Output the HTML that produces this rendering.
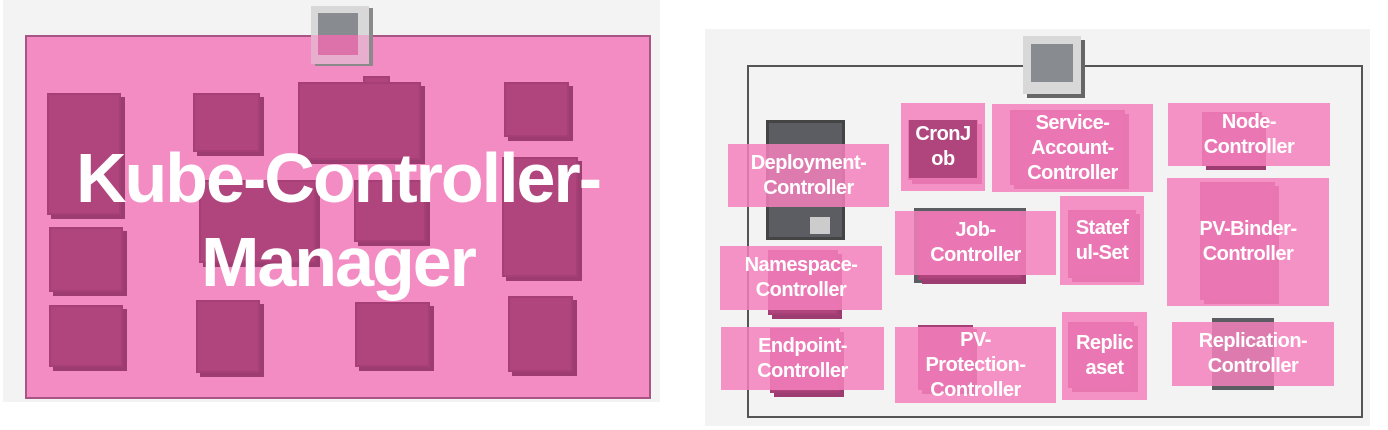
<!DOCTYPE html>
<html><head><meta charset="utf-8"><style>
body{margin:0;width:1388px;height:430px;background:#fff;position:relative;overflow:hidden;font-family:"Liberation Sans",sans-serif}
div{position:absolute;box-sizing:border-box}
.d{background:#b0457e;border:2px solid #a63f76;box-shadow:4px 4px 0 #9d3c70}
.p{background:rgba(244,128,188,0.85);color:#fff;font-weight:bold;font-size:20px;line-height:25px;display:flex;align-items:center;justify-content:center;text-align:center;letter-spacing:-0.5px;white-space:nowrap}
.in{background:#b0457e}
</style></head><body>
<!-- left panel -->
<div style="left:3px;top:0;width:657px;height:402px;background:#f3f3f3"></div>
<div style="left:25px;top:35px;width:626px;height:364px;background:#f48cc4;border:2px solid #a85583"></div>
<div style="left:311px;top:6px;width:58px;height:58px;background:#d8d8d8;box-shadow:4px 2px 0 #8a8a8a"></div>
<div style="left:318px;top:13px;width:40px;height:22px;background:#888c91"></div>
<div style="left:318px;top:35px;width:40px;height:20px;background:#c0508a"></div>
<div style="left:311px;top:35px;width:58px;height:29px;background:rgba(244,140,196,0.55)"></div>
<div class="d" style="left:47px;top:93px;width:74px;height:122px"></div>
<div class="d" style="left:193px;top:93px;width:67px;height:59px"></div>
<div class="d" style="left:363px;top:76px;width:27px;height:10px;box-shadow:none"></div>
<div class="d" style="left:298px;top:82px;width:123px;height:78px"></div>
<div class="d" style="left:504px;top:82px;width:65px;height:55px"></div>
<div class="d" style="left:199px;top:180px;width:117px;height:83px"></div>
<div class="d" style="left:354px;top:180px;width:72px;height:62px"></div>
<div class="d" style="left:502px;top:157px;width:76px;height:120px"></div>
<div class="d" style="left:49px;top:227px;width:74px;height:65px"></div>
<div class="d" style="left:49px;top:305px;width:74px;height:62px"></div>
<div class="d" style="left:196px;top:300px;width:64px;height:73px"></div>
<div class="d" style="left:355px;top:302px;width:75px;height:65px"></div>
<div class="d" style="left:508px;top:296px;width:65px;height:76px"></div>
<div style="left:25px;top:136px;width:626px;color:#fff;font-weight:bold;font-size:70px;line-height:84px;text-align:center;letter-spacing:-2px">Kube-Controller-<br>Manager</div>
<!-- right panel -->
<div style="left:705px;top:29px;width:665px;height:397px;background:#f3f3f3"></div>
<div style="left:747px;top:65px;width:616px;height:353px;border:2px solid #555"></div>
<div style="left:1023px;top:36px;width:58px;height:58px;background:#d8d8d8;box-shadow:4px 4px 0 #666"></div>
<div style="left:1031px;top:44px;width:42px;height:38px;background:#888c91"></div>
<div style="left:766px;top:120px;width:79px;height:120px;background:#5b5d62;border:3px solid #444"></div>
<div style="left:810px;top:217px;width:20px;height:17px;background:#ccc"></div>
<div class="d" style="left:908px;top:120px;width:70px;height:60px"></div>
<div class="d" style="left:1010px;top:110px;width:115px;height:75px"></div>
<div class="d" style="left:1202px;top:112px;width:60px;height:54px"></div>
<div style="left:914px;top:208px;width:112px;height:75px;background:#5b5d62"></div>
<div class="d" style="left:918px;top:212px;width:104px;height:68px"></div>
<div class="d" style="left:1068px;top:210px;width:68px;height:68px"></div>
<div class="d" style="left:1200px;top:182px;width:75px;height:118px"></div>
<div class="d" style="left:768px;top:250px;width:70px;height:65px"></div>
<div class="d" style="left:770px;top:328px;width:70px;height:65px"></div>
<div class="d" style="left:918px;top:325px;width:55px;height:65px"></div>
<div class="d" style="left:1068px;top:322px;width:66px;height:66px"></div>
<div style="left:1212px;top:318px;width:62px;height:72px;background:#5b5d62"></div>
<div class="p" style="left:728px;top:144px;width:161px;height:63px">Deployment-<br>Controller</div>
<div class="p" style="left:901px;top:103px;width:84px;height:88px"><div class="in" style="left:8px;top:17px;width:68px;height:58px"></div><span style="position:relative">CronJ<br>ob</span></div>
<div class="p" style="left:992px;top:104px;width:161px;height:88px">Service-<br>Account-<br>Controller</div>
<div class="p" style="left:1168px;top:103px;width:162px;height:63px">Node-<br>Controller</div>
<div class="p" style="left:895px;top:211px;width:161px;height:64px">Job-<br>Controller</div>
<div class="p" style="left:1060px;top:196px;width:84px;height:89px">Statef<br>ul-Set</div>
<div class="p" style="left:1167px;top:178px;width:162px;height:128px">PV-Binder-<br>Controller</div>
<div class="p" style="left:720px;top:246px;width:162px;height:64px">Namespace-<br>Controller</div>
<div class="p" style="left:721px;top:327px;width:163px;height:63px">Endpoint-<br>Controller</div>
<div class="p" style="left:895px;top:327px;width:161px;height:76px">PV-<br>Protection-<br>Controller</div>
<div class="p" style="left:1062px;top:312px;width:85px;height:88px">Replic<br>aset</div>
<div class="p" style="left:1172px;top:322px;width:162px;height:64px">Replication-<br>Controller</div>
</body></html>
